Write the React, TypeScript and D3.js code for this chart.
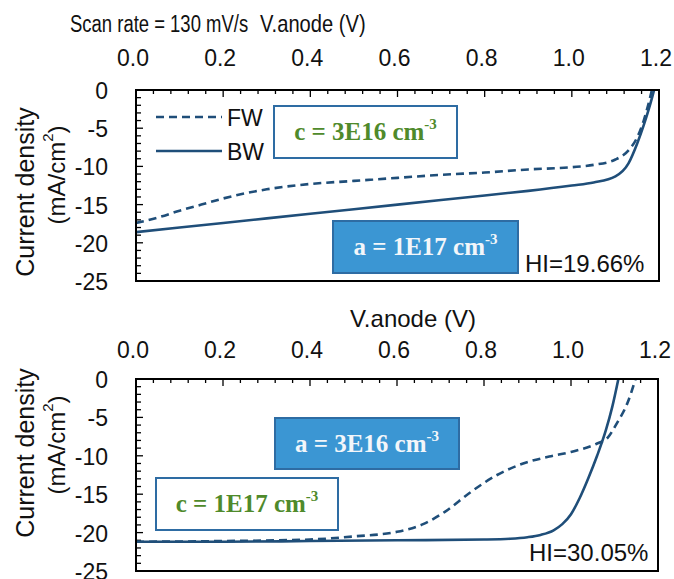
import React from "react";
import * as d3 from "d3";

// ---- Data ----
const xTickValues = [0, 0.2, 0.4, 0.6, 0.8, 1.0, 1.2];
const yTickValues = [0, -5, -10, -15, -20, -25];

// Panel 1 (a = 1E17, c = 3E16)
const p1BwV = [0, 0.1, 0.2, 0.3, 0.4, 0.5, 0.6, 0.7, 0.8, 0.9, 1.0, 1.05, 1.1, 1.13, 1.15, 1.165, 1.175, 1.185, 1.19];
const p1BwJ = [-18.6, -18.0, -17.4, -16.8, -16.2, -15.6, -15.0, -14.4, -13.8, -13.2, -12.5, -12.1, -11.3, -9.6, -7.0, -4.6, -2.8, -0.8, 0.3];
const p1FwV = [0, 0.05, 0.1, 0.15, 0.2, 0.3, 0.4, 0.5, 0.6, 0.7, 0.8, 0.9, 1.0, 1.05, 1.1, 1.13, 1.15, 1.165, 1.175, 1.185];
const p1FwJ = [-17.4, -16.7, -15.8, -15.0, -14.2, -13.0, -12.3, -11.9, -11.5, -11.1, -10.8, -10.4, -10.1, -9.8, -9.1, -7.9, -6.2, -4.0, -2.0, 0.3];

// Panel 2 (a = 3E16, c = 1E17)
const p2BwV = [0, 0.2, 0.4, 0.6, 0.8, 0.86, 0.9, 0.93, 0.96, 0.98, 1.0, 1.02, 1.04, 1.06, 1.08, 1.095, 1.11];
const p2BwJ = [-21.2, -21.2, -21.1, -21.0, -20.9, -20.8, -20.6, -20.3, -19.7, -18.9, -17.6, -15.5, -12.9, -10.0, -6.7, -3.6, 0.3];
const p2FwV = [0, 0.2, 0.4, 0.5, 0.6, 0.66, 0.71, 0.77, 0.83, 0.89, 0.95, 1.0, 1.06, 1.085, 1.105, 1.13, 1.15];
const p2FwJ = [-21.2, -21.1, -20.9, -20.5, -19.9, -18.9, -17.3, -14.7, -12.5, -11.0, -10.1, -9.5, -8.4, -7.6, -5.8, -3.1, 0.3];

const hiLabels = ["HI=19.66%", "HI=30.05%"];
const legendLabels = ["FW", "BW"];

const LINE = "#1F4E79";
const GREEN = "#4F8A2B";
const BLUEFILL = "#3B96D3";
const BLUEEDGE = "#2E6CA3";
const SANS = "'Liberation Sans', Arial, sans-serif";
const SERIF = "'Liberation Serif', 'Times New Roman', serif";

type PanelProps = {
  id: string;
  left: number;
  right: number;
  top: number;
  bottom: number;
  bwV: number[];
  bwJ: number[];
  fwV: number[];
  fwJ: number[];
  tickLabelY: number;
  children?: React.ReactNode;
};

function Panel({ id, left, right, top, bottom, bwV, bwJ, fwV, fwJ, tickLabelY, children }: PanelProps) {
  const x = d3.scaleLinear().domain([0, 1.2]).range([left, right]);
  const y = d3.scaleLinear().domain([0, -25]).range([top, bottom]);
  const line = d3
    .line<[number, number]>()
    .x((d) => x(d[0]))
    .y((d) => y(d[1]))
    .curve(d3.curveMonotoneX);
  const bw = line(bwV.map((v, i) => [v, bwJ[i]] as [number, number])) || "";
  const fw = line(fwV.map((v, i) => [v, fwJ[i]] as [number, number])) || "";
  const xMinor = d3.range(0, 31).map((i) => i * 0.04);
  const yMinor = d3.range(0, 26).map((i) => -i);
  return (
    <g>
      <defs>
        <clipPath id={id}>
          <rect x={left} y={top} width={right - left} height={bottom - top} />
        </clipPath>
      </defs>
      {xMinor.map((v, i) => (
        <line key={"xt" + i} x1={x(v)} x2={x(v)} y1={top} y2={top + (i % 5 === 0 ? 7 : 4)} stroke="#000" strokeWidth={1.3} />
      ))}
      {yMinor.map((v, i) => (
        <line key={"yt" + i} x1={left} x2={left + (i % 5 === 0 ? 7 : 5)} y1={y(v)} y2={y(v)} stroke="#000" strokeWidth={1.3} />
      ))}
      {xTickValues.map((v) => (
        <text key={"xl" + v} x={x(v) - 3} y={tickLabelY} textAnchor="middle" dominantBaseline="central" fontFamily={SANS} fontSize={23} fill="#111">
          {v.toFixed(1)}
        </text>
      ))}
      {yTickValues.map((v) => (
        <text key={"yl" + v} x={108} y={y(v) + 1} textAnchor="end" dominantBaseline="central" fontFamily={SANS} fontSize={23} fill="#111">
          {v === 0 ? "0" : String(v)}
        </text>
      ))}
      {children}
      <g clipPath={`url(#${id})`}>
        <path d={fw} fill="none" stroke={LINE} strokeWidth={2.6} strokeDasharray="8 5" />
        <path d={bw} fill="none" stroke={LINE} strokeWidth={2.6} />
      </g>
      <rect x={left} y={top} width={right - left} height={bottom - top} fill="none" stroke="#000" strokeWidth={2} />
    </g>
  );
}

function BoxLabel({ x, y, w, h, prefix, filled }: { x: number; y: number; w: number; h: number; prefix: string; filled: boolean }) {
  return (
    <g>
      <rect x={x} y={y} width={w} height={h} fill={filled ? BLUEFILL : "#fff"} stroke={BLUEEDGE} strokeWidth={2} />
      <text x={x + w / 2} y={y + h / 2 + 8} textAnchor="middle" fontFamily={SERIF} fontWeight="bold" fontSize={25} fill={filled ? "#F3F6FA" : GREEN}>
        {prefix}
        <tspan fontSize={15} dy={-11}>-3</tspan>
      </text>
    </g>
  );
}

function YTitle({ cx1, cy1, cx2, cy2 }: { cx1: number; cy1: number; cx2: number; cy2: number }) {
  return (
    <g fontFamily={SANS} fill="#111">
      <text transform={`translate(${cx1},${cy1}) rotate(-90)`} textAnchor="middle" dominantBaseline="central" fontSize={25}>
        Current density
      </text>
      <text transform={`translate(${cx2},${cy2}) rotate(-90)`} textAnchor="middle" dominantBaseline="central" fontSize={24}>
        (mA/cm<tspan fontSize={15} dy={-9}>2</tspan>
        <tspan dy={9}>)</tspan>
      </text>
    </g>
  );
}

export default function App() {
  return (
    <svg width={674} height={579} style={{ position: "absolute", left: 0, top: 0, background: "#fff" }}>
      <rect x={0} y={0} width={674} height={579} fill="#fff" />
      {/* top titles */}
      <text transform="translate(70,32) scale(0.77,1)" fontFamily={SANS} fontSize={24} fill="#111">
        Scan rate = 130 mV/s
      </text>
      <text transform="translate(260,32) scale(0.84,1)" fontFamily={SANS} fontSize={24} fill="#111">
        V.anode (V)
      </text>

      {/* Panel 1 */}
      <YTitle cx1={25} cy1={192} cx2={56} cy2={175} />
      <Panel id="clip1" left={136} right={659} top={90} bottom={281} bwV={p1BwV} bwJ={p1BwJ} fwV={p1FwV} fwJ={p1FwJ} tickLabelY={58}>
        <line x1={156} x2={222} y1={117} y2={117} stroke={LINE} strokeWidth={2.6} strokeDasharray="8 5" />
        <line x1={156} x2={222} y1={151} y2={151} stroke={LINE} strokeWidth={2.6} />
        <text x={227} y={118} dominantBaseline="central" fontFamily={SANS} fontSize={23} fill="#111">{legendLabels[0]}</text>
        <text x={227} y={152} dominantBaseline="central" fontFamily={SANS} fontSize={23} fill="#111">{legendLabels[1]}</text>
        <BoxLabel x={274} y={106} w={183} h={52} prefix="c = 3E16 cm" filled={false} />
        <BoxLabel x={333} y={221} w={185} h={52} prefix="a = 1E17 cm" filled={true} />
        <text x={525} y={272} fontFamily={SANS} fontSize={24} fill="#111">{hiLabels[0]}</text>
      </Panel>

      {/* Panel 2 */}
      <text x={413} y={318} textAnchor="middle" dominantBaseline="central" fontFamily={SANS} fontSize={24} fill="#111">
        V.anode (V)
      </text>
      <YTitle cx1={25} cy1={453} cx2={56} cy2={445} />
      <Panel id="clip2" left={136} right={658} top={379} bottom={571} bwV={p2BwV} bwJ={p2BwJ} fwV={p2FwV} fwJ={p2FwJ} tickLabelY={350}>
        <BoxLabel x={275} y={418} w={184} h={51} prefix="a = 3E16 cm" filled={true} />
        <BoxLabel x={156} y={478} w={182} h={52} prefix="c = 1E17 cm" filled={false} />
        <text x={529} y={561} fontFamily={SANS} fontSize={24} fill="#111">{hiLabels[1]}</text>
      </Panel>
    </svg>
  );
}
